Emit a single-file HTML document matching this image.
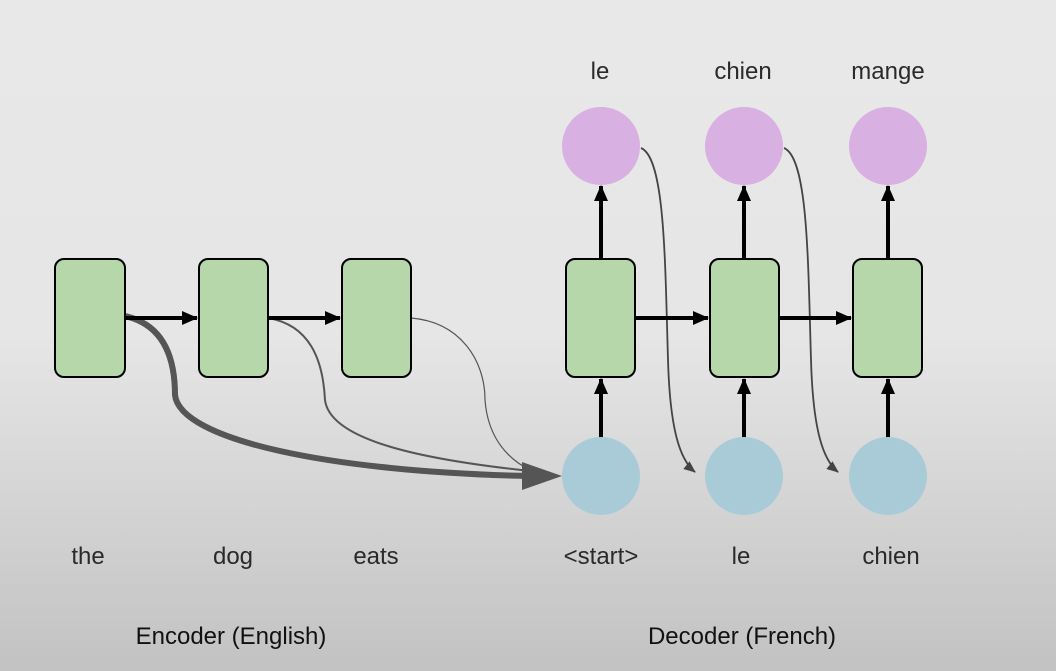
<!DOCTYPE html>
<html><head><style>
html,body{margin:0;padding:0;}
body{width:1056px;height:671px;overflow:hidden;background:linear-gradient(to bottom,#e8e8e8 0%,#e6e6e6 50%,#d4d4d4 75%,#c2c2c2 100%);}
svg{display:block;}
text{font-family:"Liberation Sans",sans-serif;fill:#2a2a2a;}
</style></head><body>
<svg width="1056" height="671" viewBox="0 0 1056 671" xmlns="http://www.w3.org/2000/svg">
<defs>
<marker id="ab" markerWidth="16" markerHeight="14" refX="15" refY="7" orient="auto" markerUnits="userSpaceOnUse"><path d="M0,0 L16,7 L0,14 Z" fill="#000"/></marker>
<marker id="ag" markerWidth="12" markerHeight="12" refX="11" refY="6" orient="auto" markerUnits="userSpaceOnUse"><path d="M0,1 L12,6 L0,11 Z" fill="#444"/></marker>
</defs>
<path d="M125,316 C165,325 175,360 175,395 C180,440 330,472 530,476" fill="none" stroke="#555" stroke-width="6"/>
<path d="M522,462 L562,476 L522,490 Z" fill="#555"/>
<path d="M268,318 C310,325 323,360 325,400 C330,440 420,460 540,472" fill="none" stroke="#555" stroke-width="2"/>
<path d="M411,318 C460,322 485,360 485,400 C488,440 510,460 530,470" fill="none" stroke="#555" stroke-width="1.2"/>
<path d="M641,148 C665,158 665,260 668,360 C670,430 680,460 695,472" fill="none" stroke="#444" stroke-width="1.8" marker-end="url(#ag)"/>
<path d="M784,148 C808,158 808,260 811,360 C813,430 823,460 838,472" fill="none" stroke="#444" stroke-width="1.8" marker-end="url(#ag)"/>
<g stroke="#000" stroke-width="4">
<line x1="125" y1="318" x2="197" y2="318" marker-end="url(#ab)"/>
<line x1="268" y1="318" x2="340" y2="318" marker-end="url(#ab)"/>
<line x1="635" y1="318" x2="708" y2="318" marker-end="url(#ab)"/>
<line x1="779" y1="318" x2="851" y2="318" marker-end="url(#ab)"/>
<line x1="601" y1="438" x2="601" y2="379" marker-end="url(#ab)"/>
<line x1="744" y1="438" x2="744" y2="379" marker-end="url(#ab)"/>
<line x1="888" y1="438" x2="888" y2="379" marker-end="url(#ab)"/>
<line x1="601" y1="259" x2="601" y2="186" marker-end="url(#ab)"/>
<line x1="744" y1="259" x2="744" y2="186" marker-end="url(#ab)"/>
<line x1="888" y1="259" x2="888" y2="186" marker-end="url(#ab)"/>
</g>
<g fill="#b6d7aa" stroke="#000" stroke-width="2">
<rect x="55" y="259" width="70" height="118" rx="9"/>
<rect x="199" y="259" width="69" height="118" rx="9"/>
<rect x="342" y="259" width="69" height="118" rx="9"/>
<rect x="566" y="259" width="69" height="118" rx="9"/>
<rect x="710" y="259" width="69" height="118" rx="9"/>
<rect x="853" y="259" width="69" height="118" rx="9"/>
</g>
<g fill="#a9cbd8">
<circle cx="601" cy="476" r="39"/><circle cx="744" cy="476" r="39"/><circle cx="888" cy="476" r="39"/>
</g>
<g fill="#d8b0e2">
<circle cx="601" cy="146" r="39"/><circle cx="744" cy="146" r="39"/><circle cx="888" cy="146" r="39"/>
</g>
<g font-size="24" text-anchor="middle">
<text x="600" y="79">le</text>
<text x="743" y="79">chien</text>
<text x="888" y="79">mange</text>
<text x="88" y="564">the</text>
<text x="233" y="564">dog</text>
<text x="376" y="564">eats</text>
<text x="601" y="564">&lt;start&gt;</text>
<text x="741" y="564">le</text>
<text x="891" y="564">chien</text>
</g>
<g font-size="24" text-anchor="middle">
<text x="231" y="644" style="fill:#111">Encoder (English)</text>
<text x="742" y="644" style="fill:#111">Decoder (French)</text>
</g>
</svg>
</body></html>
